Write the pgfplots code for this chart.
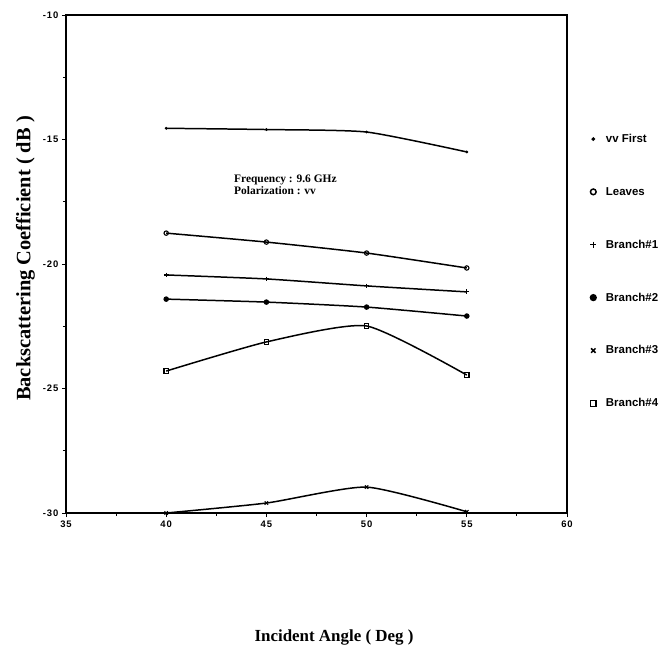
\documentclass[border=0pt]{standalone}
\usepackage{pgfplots}
\pgfplotsset{compat=1.18}
\usepackage{fontspec}
\setmainfont{Liberation Serif}
\setsansfont{Liberation Sans}
\newfontfamily\tickfont[LetterSpace=10]{Liberation Sans}
\begin{document}
\begin{tikzpicture}
\useasboundingbox (-66bp,-133bp) rectangle (602bp,513bp);
\begin{axis}[
    scale only axis,
    width=501bp, height=498bp,
    xmin=35, xmax=60,
    ymin=-30, ymax=-10,
    xtick={35,40,...,60},
    ytick={-30,-25,...,-10},
    minor x tick num=1,
    minor y tick num=1,
    xtick pos=left, ytick pos=left,
    tick align=outside,
    major tick length=4bp, minor tick length=3bp,
    axis line style={line width=1.3pt},
    every tick/.style={black, line width=0.9pt},
    /pgf/number format/assume math mode=true,
    tick label style={font=\tickfont\bfseries\fontsize{9.5}{10}\selectfont},
    xlabel={Incident Angle ( Deg )},
    ylabel={Backscattering Coefficient ( dB )},
    xlabel style={at={(axis description cs:0.535,0)}, anchor=base, yshift=-128bp,
        font=\bfseries\fontsize{17}{19}\selectfont},
    ylabel style={at={(axis description cs:-0.081,0.511)}, anchor=center,
        font=\bfseries\fontsize{20.5}{22}\selectfont},
    clip=false,
    legend style={draw=none, fill=none, at={(1,1)}, anchor=north west,
        xshift=20bp, yshift=-115bp, row sep=39.2bp,
        font=\sffamily\bfseries\fontsize{11.5}{13}\selectfont},
    legend cell align=left,
    legend image code/.code={
        \draw[#1, mark options={scale=1.3}] plot[only marks] coordinates {(0.1cm,0cm)};
        \path (0.45cm,0cm);},
    every axis plot/.append style={black, line width=1.5pt, smooth, tension=0.35,
        mark options={solid, line width=1.1pt}},
]
\addplot[mark=*, mark size=0.8pt] coordinates {
    (40,-14.55) (45,-14.6) (50,-14.7) (55,-15.5)};
\addlegendentry{vv First}
\addplot[mark=o, mark size=2.2pt] coordinates {
    (40,-18.76) (45,-19.12) (50,-19.56) (55,-20.16)};
\addlegendentry{Leaves}
\addplot[mark=+, mark size=2.4pt] coordinates {
    (40,-20.44) (45,-20.6) (50,-20.88) (55,-21.12)};
\addlegendentry{Branch\#1}
\addplot[mark=*, mark size=2.2pt] coordinates {
    (40,-21.41) (45,-21.53) (50,-21.73) (55,-22.09)};
\addlegendentry{Branch\#2}
\addplot[mark=x, mark size=2.4pt] coordinates {
    (40,-30) (45,-29.6) (50,-28.96) (55,-29.95)};
\addlegendentry{Branch\#3}
\addplot[mark=square, mark size=2.2pt] coordinates {
    (40,-24.3) (45,-23.13) (50,-22.49) (55,-24.46)};
\addlegendentry{Branch\#4}
\node[anchor=north west, align=left, inner sep=0pt,
    font=\bfseries\fontsize{11.5}{12}\selectfont]
    at (axis cs:43.38,-16.41) {Frequency : 9.6 GHz\\Polarization : vv};
\end{axis}
\end{tikzpicture}
\end{document}
